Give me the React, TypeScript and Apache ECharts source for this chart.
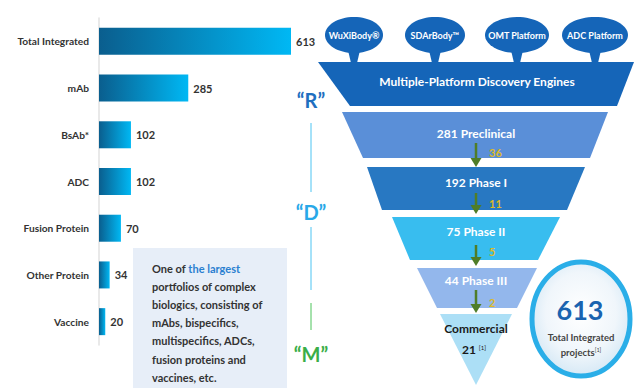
import React, { useEffect, useRef } from "react";
import * as echarts from "echarts";

const categories = ["Total Integrated", "mAb", "BsAb*", "ADC", "Fusion Protein", "Other Protein", "Vaccine"];
const projectCounts = [613, 285, 102, 102, 70, 34, 20];
const platforms = ["WuXiBody®", "SDArBody™", "OMT Platform", "ADC Platform"];
const engineTitle = "Multiple-Platform Discovery Engines";
const stageNames = ["Preclinical", "Phase I", "Phase II", "Phase III"];
const stageCounts = [281, 192, 75, 44];
const transitions = [36, 11, 5, 2];
const commercialName = "Commercial";
const commercialCount = 21;
const totalProjects = 613;
const rdmLetters = ["R", "D", "M"];
const boxLines = [
  "One of {b|the largest}",
  "portfolios of complex",
  "biologics, consisting of",
  "mAbs, bispecifics,",
  "multispecifics, ADCs,",
  "fusion proteins and",
  "vaccines, etc.",
];

const FONT = "Lato, 'Noto Sans', sans-serif";

export default function App() {
  const ref = useRef<HTMLDivElement>(null);
  useEffect(() => {
    document.body.style.margin = "0";
    const chart = echarts.init(ref.current!, null, { renderer: "svg" });

    const graphics: any[] = [];
    // top rule
    graphics.push({
      type: "line",
      shape: { x1: 13, y1: 6, x2: 634, y2: 6 },
      style: {
        lineWidth: 2,
        stroke: new echarts.graphic.LinearGradient(0, 0, 1, 0, [
          { offset: 0, color: "#5b9fd8" },
          { offset: 1, color: "#8fd8f4" },
        ]),
      },
    });

    // platform bubbles
    const bubbleX = [354, 435, 517, 595];
    const bubbleRx = [29, 30, 32, 33];
    platforms.forEach((p, i) => {
      const cx = bubbleX[i];
      graphics.push({
        type: "polygon",
        shape: { points: [[cx - 7, 46], [cx + 7, 46], [cx + 3, 63], [cx - 3, 63]] },
        style: { fill: "#1565b8" },
      });
      graphics.push({
        type: "ellipse",
        shape: { cx, cy: 35, rx: bubbleRx[i], ry: 18 },
        style: { fill: "#1565b8" },
      });
      graphics.push({
        type: "text",
        x: cx,
        y: 35,
        style: {
          text: p,
          fill: "#ffffff",
          font: `bold 9px ${FONT}`,
          align: "center",
          verticalAlign: "middle",
        },
      });
    });

    // engine trapezoid
    graphics.push({
      type: "polygon",
      shape: { points: [[318, 62], [634, 62], [617, 106], [350, 106]] },
      style: { fill: "#1565b8" },
    });
    graphics.push({
      type: "text",
      x: 477,
      y: 81,
      style: {
        text: engineTitle,
        fill: "#ffffff",
        font: `bold 12px ${FONT}`,
        align: "center",
        verticalAlign: "middle",
      },
    });

    // funnel stages
    const geom = [
      { top: 112, bottom: 158, tl: 342, tr: 608, bl: 363, br: 590, fill: "#5a8fd8", ty: 133 },
      { top: 167, bottom: 210, tl: 367, tr: 585, bl: 382, br: 567, fill: "#2878c2", ty: 182 },
      { top: 217, bottom: 260, tl: 392, tr: 560, bl: 410, br: 538, fill: "#38bdef", ty: 231 },
      { top: 268, bottom: 308, tl: 417, tr: 537, bl: 437, br: 517, fill: "#93b7ec", ty: 280 },
    ];
    stageNames.forEach((s, i) => {
      const g = geom[i];
      graphics.push({
        type: "polygon",
        shape: { points: [[g.tl, g.top], [g.tr, g.top], [g.br, g.bottom], [g.bl, g.bottom]] },
        style: { fill: g.fill },
      });
      graphics.push({
        type: "text",
        x: 476,
        y: g.ty,
        style: {
          text: `${stageCounts[i]} ${s}`,
          fill: "#ffffff",
          font: `bold 12px ${FONT}`,
          align: "center",
          verticalAlign: "middle",
        },
      });
    });
    graphics.push({
      type: "polygon",
      shape: { points: [[440, 314], [512, 314], [476, 385]] },
      style: { fill: "#acdff6" },
    });
    graphics.push({
      type: "text",
      x: 476,
      y: 328,
      style: {
        text: commercialName,
        fill: "#1a1a1a",
        font: `bold 12px ${FONT}`,
        align: "center",
        verticalAlign: "middle",
      },
    });
    graphics.push({
      type: "text",
      x: 474,
      y: 349,
      style: {
        text: `${commercialCount} {s|[1]}`,
        fill: "#1a1a1a",
        font: `bold 12px ${FONT}`,
        align: "center",
        verticalAlign: "middle",
        rich: { s: { fontSize: 6, fill: "#1a1a1a", fontFamily: FONT, padding: [0, 0, 4, 0] } },
      },
    });

    // arrows
    const arrowY = [
      [143, 167],
      [193, 214],
      [245, 266],
      [290, 313],
    ];
    const numY = [152, 203, 251, 302];
    transitions.forEach((t, i) => {
      const [y1, y2] = arrowY[i];
      graphics.push({
        type: "line",
        shape: { x1: 476, y1, x2: 476, y2: y2 - 7 },
        style: { stroke: "#4f7d28", lineWidth: 2.5 },
      });
      graphics.push({
        type: "polygon",
        shape: { points: [[470.5, y2 - 9], [481.5, y2 - 9], [476, y2]] },
        style: { fill: "#4f7d28" },
      });
      graphics.push({
        type: "text",
        x: 489,
        y: numY[i],
        style: {
          text: String(t),
          fill: "#dcb928",
          font: `bold 11px ${FONT}`,
          align: "left",
          verticalAlign: "middle",
        },
      });
    });

    // total circle
    graphics.push({
      type: "ellipse",
      shape: { cx: 581, cy: 319, rx: 49, ry: 57 },
      style: {
        fill: new echarts.graphic.RadialGradient(0.5, 0.45, 0.6, [
          { offset: 0, color: "#ffffff" },
          { offset: 0.6, color: "#f0f6fb" },
          { offset: 1, color: "#cfe5f4" },
        ]),
        stroke: "#2aaee8",
        lineWidth: 5,
      },
    });
    graphics.push({
      type: "text",
      x: 580,
      y: 309,
      style: {
        text: String(totalProjects),
        fill: "#1a63b0",
        font: `bold 27px ${FONT}`,
        align: "center",
        verticalAlign: "middle",
      },
    });
    graphics.push({
      type: "text",
      x: 581,
      y: 337,
      style: {
        text: "Total Integrated",
        fill: "#444444",
        font: `bold 9.5px ${FONT}`,
        align: "center",
        verticalAlign: "middle",
      },
    });
    graphics.push({
      type: "text",
      x: 581,
      y: 352,
      style: {
        text: "projects{s|[1]}",
        fill: "#444444",
        font: `bold 9.5px ${FONT}`,
        align: "center",
        verticalAlign: "middle",
        rich: { s: { fontSize: 5.5, fill: "#444444", fontFamily: FONT, padding: [0, 0, 4, 0] } },
      },
    });

    // R / D / M
    const rdmY = [100, 212, 354];
    const rdmColor = ["#1f6fc0", "#29a8e8", "#3aae48"];
    rdmLetters.forEach((l, i) => {
      graphics.push({
        type: "text",
        x: 311,
        y: rdmY[i],
        style: {
          text: `“${l}”`,
          fill: rdmColor[i],
          font: `bold 20px ${FONT}`,
          align: "center",
          verticalAlign: "middle",
        },
      });
    });
    graphics.push({ type: "line", shape: { x1: 311, y1: 123, x2: 311, y2: 192 }, style: { stroke: "#4cc4f2", lineWidth: 1 } });
    graphics.push({ type: "line", shape: { x1: 311, y1: 227, x2: 311, y2: 290 }, style: { stroke: "#4cc4f2", lineWidth: 1 } });
    graphics.push({ type: "line", shape: { x1: 311, y1: 303, x2: 311, y2: 330 }, style: { stroke: "#4cc45a", lineWidth: 1 } });

    // text box
    graphics.push({
      type: "rect",
      shape: { x: 133, y: 248, width: 154, height: 140 },
      style: { fill: "#e7eef8" },
    });
    graphics.push({
      type: "text",
      x: 152,
      y: 259,
      style: {
        text: boxLines.join("\n"),
        fill: "#333333",
        font: `bold 11px ${FONT}`,
        lineHeight: 18.2,
        align: "left",
        verticalAlign: "top",
        rich: { b: { fill: "#2a7fd0", fontSize: 11, fontWeight: "bold", fontFamily: FONT, lineHeight: 18.2 } },
      },
    });

    chart.setOption({
      animation: false,
      backgroundColor: "#ffffff",
      grid: { left: 99, top: 18, width: 192, height: 327, containLabel: false },
      xAxis: { type: "value", min: 0, max: 613, show: false },
      yAxis: {
        type: "category",
        inverse: true,
        data: categories,
        axisLine: { show: true, lineStyle: { color: "#e2e2e2", width: 1.5 } },
        axisTick: { show: false },
        axisLabel: { margin: 10, color: "#333333", fontWeight: "bold", fontSize: 10.2, fontFamily: FONT },
      },
      series: [
        {
          type: "bar",
          data: projectCounts,
          barWidth: 27,
          itemStyle: {
            color: new echarts.graphic.LinearGradient(0, 0, 1, 0, [
              { offset: 0, color: "#0a5e8e" },
              { offset: 1, color: "#00b8f4" },
            ]),
          },
          label: {
            show: true,
            position: "right",
            distance: 5,
            color: "#333333",
            fontWeight: "bold",
            fontSize: 11,
            fontFamily: FONT,
          },
        },
      ],
      graphic: graphics,
    });
    return () => chart.dispose();
  }, []);
  return <div ref={ref} style={{ position: "absolute", left: 0, top: 0, width: 634, height: 390 }} />;
}
